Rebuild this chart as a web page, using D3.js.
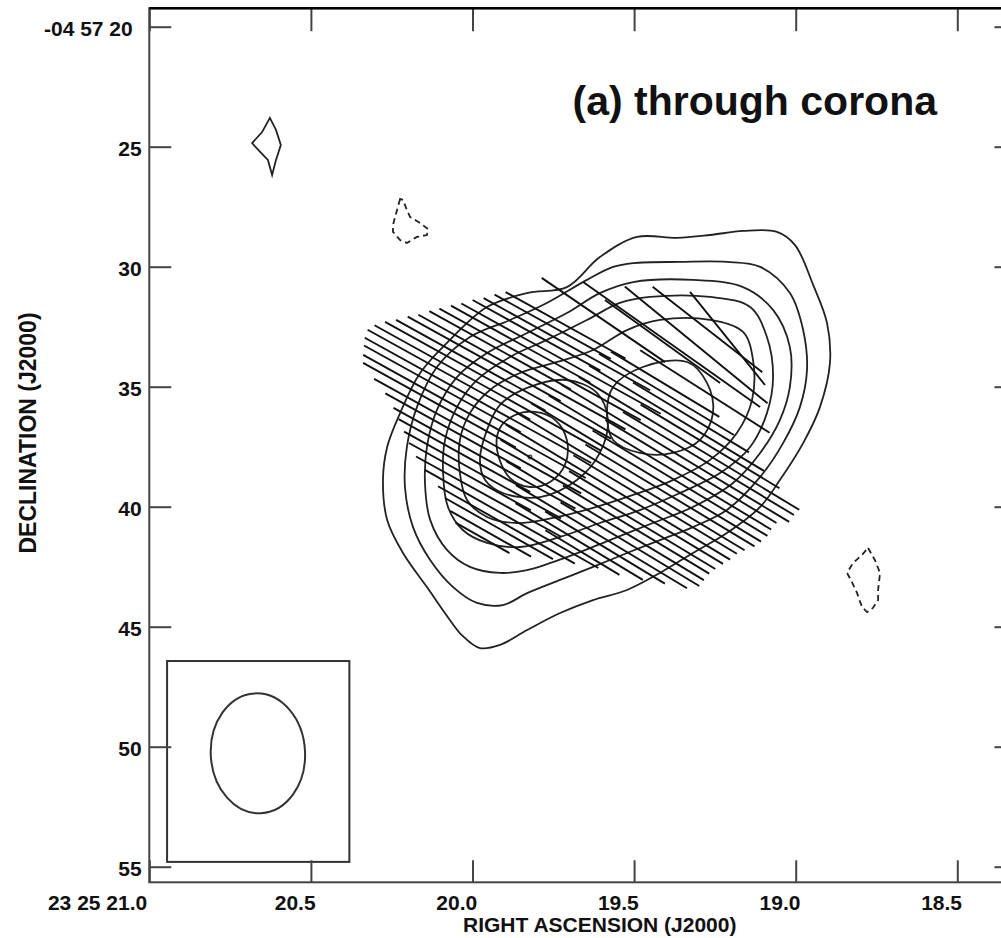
<!DOCTYPE html>
<html>
<head>
<meta charset="utf-8">
<script src="https://d3js.org/d3.v7.min.js"></script>
<style>
    body { margin: 0; background: #fff; }
    svg { display: block; }
</style>
</head>
<body>
<div id="map_container"></div>
<script>

/*****************************************/
/*   DATA                                 */
/*****************************************/

// axis ticks (RA in seconds of 23h25m, Dec in arcsec of -04d57m)
let raTicks = [21.0, 20.5, 20.0, 19.5, 19.0, 18.5];
let raTickLabels = ["23 25 21.0", "20.5", "20.0", "19.5", "19.0", "18.5"];
let decTicks = [20, 25, 30, 35, 40, 45, 50, 55];
let decTickLabels = ["-04 57 20", "25", "30", "35", "40", "45", "50", "55"];

// map limits
let frameRA = [21.0, 18.317];
let frameDec = [19.23, 55.65];

// total intensity contours, [RA s, Dec "]
let contour1 = [[20.277,38.89],[20.264,37.51],[20.224,36.10],[20.162,34.43],[20.070,33.05],[19.955,31.68],[19.831,31.10],[19.708,30.85],[19.606,29.60],[19.491,28.76],[19.367,28.80],[19.265,28.68],[19.163,28.51],[19.058,28.55],[19.002,29.10],[18.946,30.76],[18.903,32.35],[18.894,34.01],[18.925,35.85],[18.977,37.35],[19.049,38.89],[19.110,40.01],[19.213,41.10],[19.318,41.93],[19.420,42.76],[19.522,43.47],[19.627,43.89],[19.729,44.43],[19.831,45.14],[19.915,45.76],[19.977,45.89],[20.033,45.35],[20.070,44.72],[20.141,43.35],[20.215,41.93],[20.264,40.55]];
let contour2 = [[20.209,39.18],[20.203,37.51],[20.172,35.85],[20.110,34.18],[20.008,32.93],[19.884,32.22],[19.770,31.51],[19.646,30.55],[19.565,30.01],[19.503,29.85],[19.358,29.80],[19.213,29.80],[19.110,30.01],[19.018,31.10],[18.977,32.64],[18.965,34.30],[18.987,35.85],[19.039,37.35],[19.110,38.76],[19.213,40.14],[19.318,40.85],[19.420,41.39],[19.522,41.93],[19.627,42.51],[19.729,43.05],[19.831,43.60],[19.906,44.10],[19.986,44.01],[20.060,43.35],[20.131,42.22],[20.184,40.85]];
let contour3 = [[20.147,39.01],[20.141,37.51],[20.110,35.97],[20.048,34.60],[19.955,33.60],[19.831,32.76],[19.708,31.93],[19.606,31.10],[19.503,30.64],[19.318,30.55],[19.163,30.85],[19.070,31.80],[19.018,33.35],[19.018,35.01],[19.049,36.39],[19.110,37.76],[19.194,39.01],[19.318,40.01],[19.442,40.68],[19.575,41.39],[19.708,42.10],[19.831,42.64],[19.915,42.76],[20.008,42.51],[20.079,41.80],[20.131,40.55]];
let contour4 = [[20.091,38.60],[20.085,37.22],[20.048,35.85],[19.986,34.72],[19.884,33.76],[19.770,33.05],[19.646,32.22],[19.544,31.51],[19.451,31.26],[19.265,31.26],[19.141,31.68],[19.089,32.93],[19.070,34.60],[19.089,36.10],[19.141,37.51],[19.234,38.60],[19.358,39.43],[19.482,40.14],[19.606,40.68],[19.729,41.26],[19.853,41.68],[19.955,41.51],[20.030,40.97],[20.076,40.01]];
let contour5 = [[20.039,38.60],[20.039,37.22],[20.008,36.10],[19.946,35.14],[19.853,34.43],[19.738,33.97],[19.627,33.47],[19.522,32.64],[19.420,32.22],[19.265,32.22],[19.163,32.72],[19.132,33.89],[19.135,35.55],[19.182,36.93],[19.265,38.05],[19.380,38.89],[19.503,39.51],[19.627,40.05],[19.751,40.47],[19.862,40.68],[19.955,40.43],[20.017,39.72]];
let contour6East = [[19.977,38.05],[19.955,36.80],[19.915,35.76],[19.831,35.05],[19.708,34.72],[19.615,35.26],[19.581,36.39],[19.606,37.76],[19.677,38.89],[19.791,39.60],[19.906,39.43],[19.961,38.89]];
let contour6West = [[19.584,36.10],[19.565,35.01],[19.473,34.18],[19.336,33.97],[19.274,34.85],[19.256,36.10],[19.296,37.22],[19.380,37.76],[19.482,37.76],[19.565,37.22]];
let contour7 = [[19.924,37.64],[19.915,36.72],[19.868,36.18],[19.806,36.05],[19.744,36.39],[19.708,37.22],[19.714,38.26],[19.760,38.97],[19.822,39.18],[19.884,38.81]];

// small isolated contours
let blobPositive = [[20.627,23.80],[20.608,24.30],[20.593,24.93],[20.608,25.55],[20.620,26.18],[20.633,25.55],[20.657,25.22],[20.682,24.85],[20.651,24.39]];
let blobNegative1 = [[20.224,27.18],[20.236,27.76],[20.246,28.26],[20.246,28.55],[20.224,28.89],[20.203,29.01],[20.172,28.76],[20.141,28.68],[20.138,28.43],[20.162,28.18],[20.193,27.93],[20.203,27.64],[20.215,27.22]];
let blobNegative2 = [[18.776,41.72],[18.755,42.22],[18.739,42.76],[18.745,43.47],[18.745,43.89],[18.761,44.22],[18.779,44.39],[18.795,44.18],[18.810,43.60],[18.826,43.14],[18.841,42.76],[18.823,42.35],[18.795,42.01]];

// peak marker
let peakPos = [19.822, 37.93];

// polarization vectors, [RA s, Dec ", length ", PA deg]
let polVectors = [
    [19.712,32.44,6.2,63.5],[19.404,34.90,5.7,61.5],
    [19.752,32.50,6.0,63.5],[19.400,35.32,7.1,61.5],
    [19.708,33.23,8.6,63.5],[19.324,36.28,6.1,61.5],
    [19.802,32.86,6.6,63.5],[19.369,36.31,9.2,61.5],
    [19.726,33.83,10.3,63.5],[19.265,37.49,7.3,61.5],
    [19.851,33.23,7.2,63.5],[19.330,37.36,11.6,61.5],
    [19.791,34.07,10.4,63.5],[19.270,38.20,9.0,61.5],
    [19.915,33.48,7.3,63.5],[19.373,37.77,12.0,61.5],
    [19.847,34.39,10.7,63.5],[19.324,38.53,9.0,61.5],
    [19.964,33.84,7.9,63.5],[19.420,38.16,11.7,61.5],
    [19.904,34.69,11.1,63.5],[19.358,39.02,9.2,61.5],
    [20.022,34.15,8.3,63.5],[19.463,38.57,12.1,61.5],
    [19.953,35.05,11.7,63.5],[19.389,39.53,8.9,61.5],
    [20.073,34.50,8.4,63.5],[19.511,38.95,12.0,61.5],
    [19.983,35.57,11.7,63.5],[19.435,39.91,8.6,61.5],
    [20.093,35.09,8.1,63.5],[19.550,39.39,11.8,61.5],
    [19.994,36.24,11.5,63.5],[19.463,40.45,8.1,61.5],
    [20.102,35.77,7.9,63.5],[19.581,39.90,11.3,61.5],
    [19.984,37.06,10.7,63.5],[19.494,40.95,7.7,61.5],
    [20.060,36.84,7.0,63.5],[19.590,40.58,10.4,61.5],
    [19.963,37.98,9.4,63.5],[19.513,41.56,7.3,61.5],
    [20.025,37.87,6.8,63.5],[19.601,41.25,9.0,61.5],
    [19.969,38.68,8.1,63.5],[19.590,41.70,6.3,61.5],
    [20.008,38.75,6.3,63.5],[19.670,41.45,6.7,61.5],
    [19.950,39.58,7.5,63.5],[19.660,41.91,3.9,61.5],
    [19.879,40.51,9.0,63],[19.895,40.76,7.1,63],[19.918,40.91,5.6,63],
    [19.944,41.13,4.2,63],[19.969,41.30,2.8,63],
    [19.595,32.22,6.7,58.4],[19.281,35.20,6.9,60.1],[19.384,33.24,9.7,57.5],
    [19.308,33.26,8.2,53.6],[19.273,32.62,6.2,54.9],[19.211,32.99,5.2,41.8],
    [19.412,33.12,6.35,57.0]
];

// restoring beam
let beamCenter = [20.664, 50.275];
let beamAxes = [5.0, 4.36];   // major, minor (arcsec)
let beamPA = 3;
let beamBox = [[20.945, 46.43], [20.381, 54.80]];

let titleText = "(a) through corona";


/*****************************************/
/*   DRAW MAP                             */
/*****************************************/

let width = 1001, height = 938;
let fontFamily = '"Liberation Sans", Arial, Helvetica, sans-serif';

let svg = d3.select("#map_container").append("svg")
    .attr("width", width)
    .attr("height", height)
    .style("background", "#fff");

// SCALES
let x = d3.scaleLinear().domain([21.0, 18.5]).range([149.3, 957.3]);
let y = d3.scaleLinear().domain([20, 55]).range([26.7, 866.7]);

// arcsec on sky per RA second at this declination
let raArcsec = 15 * Math.cos((4 + 57 / 60 + 37 / 3600) * Math.PI / 180);

// ---- CONTOURS ----
let smooth = d3.line()
    .x(d => x(d[0]))
    .y(d => y(d[1]))
    .curve(d3.curveCatmullRomClosed.alpha(0.5));

let sharp = d3.line()
    .x(d => x(d[0]))
    .y(d => y(d[1]))
    .curve(d3.curveLinearClosed);

let mainContours = [contour1, contour2, contour3, contour4, contour5, contour6East, contour6West, contour7];

svg.append("g").selectAll("path")
    .data(mainContours)
    .enter()
    .append("path")
    .attr("d", d => smooth(d))
    .attr("fill", "none")
    .attr("stroke", "#222")
    .attr("stroke-width", 1.8);

svg.append("path")
    .attr("d", sharp(blobPositive))
    .attr("fill", "none")
    .attr("stroke", "#222")
    .attr("stroke-width", 1.8);

svg.append("g").selectAll("path")
    .data([blobNegative1, blobNegative2])
    .enter()
    .append("path")
    .attr("d", d => sharp(d))
    .attr("fill", "none")
    .attr("stroke", "#222")
    .attr("stroke-width", 1.8)
    .attr("stroke-dasharray", "6,4");

svg.append("circle")
    .attr("cx", x(peakPos[0]))
    .attr("cy", y(peakPos[1]))
    .attr("r", 1.8)
    .attr("fill", "none")
    .attr("stroke", "#333")
    .attr("stroke-width", 1.2);

// ---- POLARIZATION VECTORS ----
function vectorEnds(d) {
    let pa = d[3] * Math.PI / 180;
    let dDec = d[2] / 2 * Math.cos(pa);
    let dRa = d[2] / 2 * Math.sin(pa) / raArcsec;
    return [[d[0] + dRa, d[1] - dDec], [d[0] - dRa, d[1] + dDec]];
}

svg.append("g").selectAll("line")
    .data(polVectors)
    .enter()
    .append("line")
    .attr("x1", d => x(vectorEnds(d)[0][0]))
    .attr("y1", d => y(vectorEnds(d)[0][1]))
    .attr("x2", d => x(vectorEnds(d)[1][0]))
    .attr("y2", d => y(vectorEnds(d)[1][1]))
    .attr("stroke", "#111")
    .attr("stroke-width", 1.9);

// ---- BEAM ----
svg.append("rect")
    .attr("x", x(beamBox[0][0]))
    .attr("y", y(beamBox[0][1]))
    .attr("width", x(beamBox[1][0]) - x(beamBox[0][0]))
    .attr("height", y(beamBox[1][1]) - y(beamBox[0][1]))
    .attr("fill", "none")
    .attr("stroke", "#333")
    .attr("stroke-width", 2);

svg.append("ellipse")
    .attr("cx", x(beamCenter[0]))
    .attr("cy", y(beamCenter[1]))
    .attr("rx", x(beamCenter[0]) - x(beamCenter[0] + beamAxes[1] / 2 / raArcsec))
    .attr("ry", y(beamCenter[1] + beamAxes[0] / 2) - y(beamCenter[1]))
    .attr("transform", "rotate(" + (-beamPA) + "," + x(beamCenter[0]) + "," + y(beamCenter[1]) + ")")
    .attr("fill", "none")
    .attr("stroke", "#333")
    .attr("stroke-width", 2);

// ---- AXIS ----
let frameLeft = x(frameRA[0]), frameRight = x(frameRA[1]);
let frameTop = y(frameDec[0]), frameBottom = y(frameDec[1]);

function styleAxis(g) {
    g.select(".domain").remove();
    g.attr("font-family", fontFamily)
        .attr("font-size", 21)
        .attr("font-weight", "bold")
        .attr("color", "#111");
    g.selectAll(".tick line")
        .attr("stroke", "#444")
        .attr("stroke-width", 2);
}

let xAxisBottom = svg.append("g")
    .attr("transform", "translate(0," + frameBottom + ")")
    .call(d3.axisBottom(x).tickValues(raTicks).tickSizeInner(-22).tickSizeOuter(0)
        .tickPadding(13).tickFormat((d, i) => raTickLabels[i]))
    .call(styleAxis);
xAxisBottom.selectAll("text")
    .attr("text-anchor", "end")
    .attr("x", (d, i) => i === 0 ? -2.6 : 4.2);

svg.append("g")
    .attr("transform", "translate(0," + frameTop + ")")
    .call(d3.axisTop(x).tickValues(raTicks).tickSizeInner(-23).tickSizeOuter(0).tickFormat(""))
    .call(styleAxis);

let yAxisLeft = svg.append("g")
    .attr("transform", "translate(" + frameLeft + ",0)")
    .call(d3.axisLeft(y).tickValues(decTicks).tickSizeInner(-22).tickSizeOuter(0)
        .tickPadding(7.6).tickFormat((d, i) => decTickLabels[i]))
    .call(styleAxis);
yAxisLeft.selectAll("text")
    .attr("dy", "0.43em")
    .attr("x", (d, i) => i === 0 ? -16.6 : -7.6);

svg.append("g")
    .attr("transform", "translate(" + frameRight + ",0)")
    .call(d3.axisRight(y).tickValues(decTicks).tickSizeInner(-22).tickSizeOuter(0).tickFormat(""))
    .call(styleAxis);

// frame
svg.append("rect")
    .attr("x", frameLeft)
    .attr("y", frameTop)
    .attr("width", frameRight - frameLeft)
    .attr("height", frameBottom - frameTop)
    .attr("fill", "none")
    .attr("stroke", "#444")
    .attr("stroke-width", 2);

svg.append("line")
    .attr("x1", frameLeft).attr("x2", frameRight)
    .attr("y1", frameTop).attr("y2", frameTop)
    .attr("stroke", "#000")
    .attr("stroke-width", 2.6);

// ---- LABELS ----
svg.append("text")
    .attr("x", 463)
    .attr("y", 931.5)
    .attr("font-family", fontFamily)
    .attr("font-size", 21)
    .attr("font-weight", "bold")
    .attr("fill", "#111")
    .text("RIGHT ASCENSION (J2000)");

svg.append("text")
    .attr("transform", "translate(36,433) rotate(-90)")
    .attr("text-anchor", "middle")
    .attr("font-family", fontFamily)
    .attr("font-size", 23)
    .attr("font-weight", "bold")
    .attr("fill", "#111")
    .text("DECLINATION (J2000)");

svg.append("text")
    .attr("x", 937)
    .attr("y", 115)
    .attr("text-anchor", "end")
    .attr("font-family", fontFamily)
    .attr("font-size", 41)
    .attr("font-weight", "bold")
    .attr("fill", "#111")
    .text(titleText);

</script>
</body>
</html>
